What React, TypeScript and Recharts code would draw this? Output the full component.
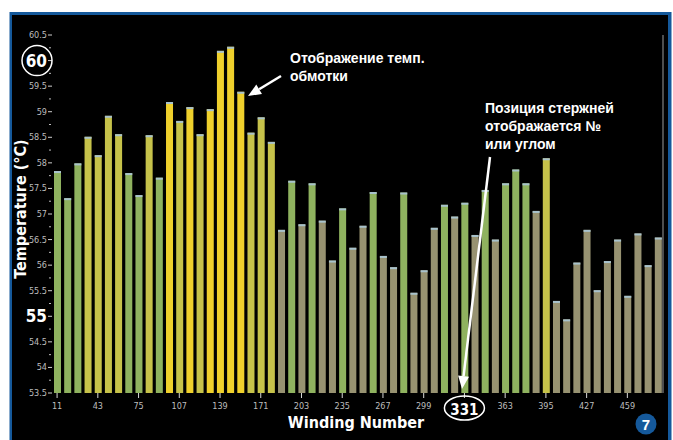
import { BarChart, Bar, XAxis, YAxis, Cell } from "recharts";

// winding numbers (category axis)
const windings = [
  11, 19, 27, 35, 43, 51, 59, 67, 75, 83, 91, 99, 107, 115, 123, 131, 139, 147, 155, 163,
  171, 179, 187, 195, 203, 211, 219, 227, 235, 243, 251, 259, 267, 275, 283, 291, 299, 307, 315, 323,
  331, 339, 347, 355, 363, 371, 379, 387, 395, 403, 411, 419, 427, 435, 443, 451, 459, 467, 475, 483,
];

// winding temperature, °C
const temps = [
  57.84, 57.31, 57.99, 58.51, 58.15, 58.92, 58.56, 57.8, 57.37, 58.54,
  57.71, 59.19, 58.82, 59.09, 58.56, 59.05, 60.19, 60.27, 59.39, 58.59,
  58.89, 58.41, 56.69, 57.65, 56.8, 57.6, 56.87, 56.09, 57.11, 56.34,
  56.77, 57.43, 56.18, 55.96, 57.42, 55.46, 55.9, 56.73, 57.18, 56.95,
  57.22, 56.59, 57.47, 56.5, 57.6, 57.87, 57.6, 57.06, 58.09, 55.3,
  54.94, 56.05, 56.69, 55.51, 56.08, 56.5, 55.4, 56.62, 56.0, 56.54,
];

const yTicks = [
  53.5, 53.75, 54, 54.25, 54.5, 54.75, 55, 55.25, 55.5, 55.75, 56, 56.25, 56.5, 56.75, 57,
  57.25, 57.5, 57.75, 58, 58.25, 58.5, 58.75, 59, 59.25, 59.5, 59.75, 60, 60.25, 60.5,
];
const bigTicks = [55, 60];
const circledTick = 331;

const data = windings.map((w, i) => ({ w, t: temps[i] }));

const FONT = "'DejaVu Sans Condensed', 'DejaVu Sans', sans-serif";
const RU = "'Liberation Sans', Arial, sans-serif";

function barColor(v: number) {
  if (v >= 59) return "#efd02c";
  if (v >= 58.05) return "#c6c24a";
  if (v >= 57.1) return "#8fb25f";
  return "#979271";
}

const BarShape = (p: any) => (
  <g>
    <rect x={p.x} y={p.y} width={p.width} height={p.height} fill={p.fill} />
    <rect x={p.x} y={p.y} width={p.width} height={2} fill="#a8c2cc" />
  </g>
);

const YTick = (p: any) => {
  const v = p.payload.value;
  const major = Math.abs(v * 2 - Math.round(v * 2)) < 1e-6;
  if (!major) return <line x1={p.x - 3} x2={p.x - 1} y1={p.y} y2={p.y} stroke="#bdbdbd" strokeWidth={1} />;
  const big = bigTicks.includes(v);
  return (
    <g>
      <line x1={p.x - 4} x2={p.x} y1={p.y} y2={p.y} stroke="#cfcfcf" strokeWidth={1} />
      <text
        x={p.x - 5}
        y={p.y}
        dy={big ? 6 : 3}
        textAnchor="end"
        fill={big ? "#ffffff" : "#bdbdbd"}
        fontSize={big ? 17 : 9}
        fontWeight={big ? "bold" : "normal"}
        fontFamily={FONT}
      >
        {v}
      </text>
      {v === 60 && <circle cx={p.x - 15} cy={p.y} r={15} fill="none" stroke="#fff" strokeWidth={1.5} />}
    </g>
  );
};

const XTick = (p: any) => {
  const v = p.payload.value;
  if (v === circledTick) {
    return (
      <g>
        <text x={p.x} y={p.y} dy={15} textAnchor="middle" fill="#fff" fontSize={15} fontWeight="bold" fontFamily={FONT}>
          {v}
        </text>
        <ellipse cx={p.x} cy={p.y + 8} rx={20} ry={12} fill="none" stroke="#fff" strokeWidth={1.5} />
      </g>
    );
  }
  return (
    <text x={p.x} y={p.y} dy={9} textAnchor="middle" fill="#bdbdbd" fontSize={9} fontFamily={FONT}>
      {v}
    </text>
  );
};

function Arrow({ x1, y1, x2, y2 }: { x1: number; y1: number; y2: number; x2: number }) {
  const a = Math.atan2(y2 - y1, x2 - x1);
  const L = 13;
  const W = 5.5;
  const bx = x2 - L * Math.cos(a);
  const by = y2 - L * Math.sin(a);
  const px = -Math.sin(a) * W;
  const py = Math.cos(a) * W;
  return (
    <g>
      <line x1={x1} y1={y1} x2={bx} y2={by} stroke="#fff" strokeWidth={2.5} />
      <polygon points={`${x2},${y2} ${bx + px},${by + py} ${bx - px},${by - py}`} fill="#fff" />
    </g>
  );
}

export default function App() {
  return (
    <div style={{ position: "absolute", left: 0, top: 0, width: 673, height: 440, background: "#fff", overflow: "hidden" }}>
      <svg width={673} height={440} style={{ position: "absolute", left: 0, top: 0 }}>
        <rect x={9.5} y={12} width={662} height={440} fill="#15599b" />
        <rect x={12} y={15} width={656} height={430} fill="#000" />
      </svg>
      <div style={{ position: "absolute", left: 0, top: 0 }}>
        <BarChart width={673} height={440} data={data} margin={{ top: 35, right: 8, bottom: 17, left: 0 }} barSize={7}>
          <XAxis
            dataKey="w"
            interval={3}
            height={30}
            axisLine={false}
            tickLine={{ stroke: "#d8d8d8", strokeWidth: 1 }}
            tickSize={5}
            tickMargin={2}
            tick={<XTick />}
          />
          <YAxis
            yAxisId="t"
            domain={[53.5, 60.5]}
            ticks={yTicks}
            interval={0}
            allowDataOverflow
            width={52}
            axisLine={false}
            tickLine={false}
            tickSize={0}
            tickMargin={0}
            tick={<YTick />}
          />
          <YAxis
            yAxisId="r"
            orientation="right"
            domain={[53.5, 60.5]}
            width={2}
            tick={false}
            tickLine={false}
            axisLine={{ stroke: "#4e4e4e", strokeWidth: 2 }}
          />
          <Bar yAxisId="t" dataKey="t" isAnimationActive={false} shape={<BarShape />}>
            {data.map((d) => (
              <Cell key={d.w} fill={barColor(d.t)} />
            ))}
          </Bar>
        </BarChart>
      </div>
      <svg width={673} height={440} style={{ position: "absolute", left: 0, top: 0, pointerEvents: "none" }}>
        <text
          transform="translate(26,209) rotate(-90)"
          textAnchor="middle"
          fill="#fff"
          fontSize={16}
          fontWeight="bold"
          fontFamily={FONT}
        >
          Temperature (°C)
        </text>
        <text x={356} y={428} textAnchor="middle" fill="#fff" fontSize={16} fontWeight="bold" fontFamily={FONT}>
          Winding Number
        </text>
        <g fill="#fff" fontSize={14} fontWeight="bold" fontFamily={RU}>
          <text x={290} y={63}>Отображение темп.</text>
          <text x={290} y={81}>обмотки</text>
          <text x={485} y={113}>Позиция стержней</text>
          <text x={485} y={131}>отображается №</text>
          <text x={485} y={149}>или углом</text>
        </g>
        <Arrow x1={281} y1={76} x2={248} y2={96} />
        <Arrow x1={490} y1={157} x2={462} y2={389} />
        <circle cx={646} cy={424} r={10.5} fill="#15599b" />
        <text x={646} y={429.5} textAnchor="middle" fill="#fff" fontSize={15} fontWeight="bold" fontFamily={RU}>
          7
        </text>
      </svg>
    </div>
  );
}
